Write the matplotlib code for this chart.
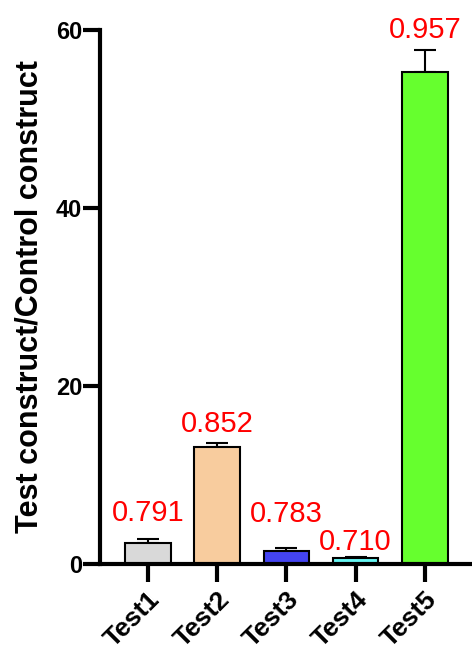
import matplotlib
matplotlib.use("Agg")
import matplotlib.pyplot as plt

plt.rcParams["font.family"] = ["Liberation Sans", "DejaVu Sans"]

# ratio test/control for each construct, with SD (upper only)
samples = ["Test1", "Test2", "Test3", "Test4", "Test5"]
ratios = [2.4, 13.1, 1.45, 0.7, 55.3]
errors = [0.4, 0.5, 0.3, 0.12, 2.5]
r_values = ["0.791", "0.852", "0.783", "0.710", "0.957"]
colors = ["#d9d9d9", "#f8cc9e", "#4444f2", "#66f7f4", "#66ff2e"]

fig = plt.figure(figsize=(4.72, 6.52), dpi=100)
ax = fig.add_axes([0.212, 0.135, 0.788, 0.819])

x = range(len(samples))
ax.bar(x, ratios, width=0.66, color=colors, edgecolor="black", linewidth=1.5, zorder=2)
ax.errorbar(x, ratios, yerr=[[0] * len(errors), errors], fmt="none",
            ecolor="black", elinewidth=1.5, capsize=8, capthick=1.5, zorder=1)

# red labels above each bar
label_gap = [12.7, 7.9, 19.2, 5, 8.4]
for i, txt in enumerate(r_values):
    ax.annotate(txt, (i, ratios[i] + errors[i]), xytext=(0, label_gap[i]),
                textcoords="offset points", ha="center", va="baseline",
                color="red", fontsize=21)

ax.set_xlim(-0.69, 4.68)
ax.set_ylim(0, 60)
ax.set_yticks([0, 20, 40, 60])
ax.set_xticks(list(x))
ax.set_xticklabels(samples, rotation=45, ha="right", rotation_mode="anchor",
                   fontsize=19, fontweight="bold")
for lab in ax.get_yticklabels():
    lab.set_fontsize(17)
    lab.set_fontweight("bold")
ax.set_ylabel("Test construct/Control construct", fontsize=22, fontweight="bold", labelpad=8)

for side in ["top", "right"]:
    ax.spines[side].set_visible(False)
ax.spines["left"].set_linewidth(3)
ax.spines["bottom"].set_linewidth(3)
ax.tick_params(axis="y", length=12, width=3, pad=1)
ax.tick_params(axis="x", length=13, width=3, pad=4)

fig.savefig("out.png", dpi=100)
